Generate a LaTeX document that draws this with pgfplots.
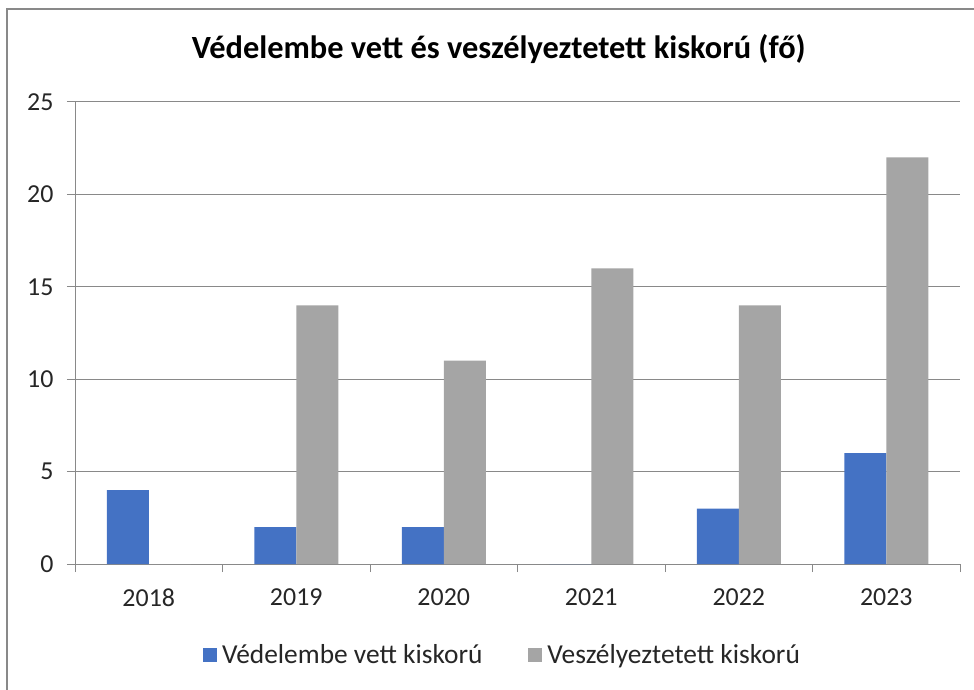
\documentclass[border=0pt]{standalone}
\usepackage{fontspec}
\setmainfont{Carlito}
\usepackage{pgfplots}
\pgfplotsset{compat=1.18}
\definecolor{blueS}{HTML}{4472C4}
\definecolor{greyS}{HTML}{A5A5A5}
\definecolor{axgray}{HTML}{898989}
\begin{document}
\begin{tikzpicture}
\useasboundingbox (-75bp,-126bp) rectangle (899bp,564bp);
\draw[axgray, line width=1.3bp] (-68bp,-140bp) rectangle (910bp,555bp);
\begin{axis}[
    at={(0,0)}, anchor=south west,
    scale only axis, width=885bp, height=462bp,
    xmin=-0.5, xmax=5.5, ymin=0, ymax=25,
    ytick={0,5,...,25},
    xtick={-0.5,0.5,...,5.5}, xticklabels={},
    extra x ticks={0,1,2,3,4,5},
    extra x tick labels={2018,2019,2020,2021,2022,2023},
    extra x tick style={major tick length=0pt, grid=none},
    axis x line*=bottom, axis y line*=left,
    axis line style={axgray, line width=1bp, -},
    ymajorgrids, grid style={axgray, line width=1bp},
    tick align=outside, major tick length=8bp,
    tick style={axgray, line width=1bp},
    tick label style={font=\fontsize{26}{30}\selectfont, text=black!85},
    /pgf/number format/assume math mode=true,
    xticklabel style={yshift=-21bp},
    yticklabel style={xshift=-10bp},
    title={\textbf{Védelembe vett és veszélyeztetett kiskorú (fő)}},
    title style={at={(0.479,1.102)}, anchor=center, font=\fontsize{32.5}{36}\selectfont},
    ybar=0pt, bar width=42bp,
    legend style={draw=none, at={(0.483,-0.197)}, anchor=center,
        legend columns=2, font=\fontsize{27.5}{31}\selectfont, text=black!85,
        /tikz/every odd column/.append style={column sep=3bp},
        /tikz/every even column/.append style={column sep=44bp}},
    legend image code/.code={\fill[#1] (0bp,-7bp) rectangle (14bp,7bp);},
]
\addplot[fill=blueS, draw=none] coordinates {(0,4) (1,2) (2,2) (3,0) (4,3) (5,6)};
\addplot[fill=greyS, draw=none] coordinates {(0,0) (1,14) (2,11) (3,16) (4,14) (5,22)};
\legend{Védelembe vett kiskorú, Veszélyeztetett kiskorú}
\end{axis}
\end{tikzpicture}
\end{document}
